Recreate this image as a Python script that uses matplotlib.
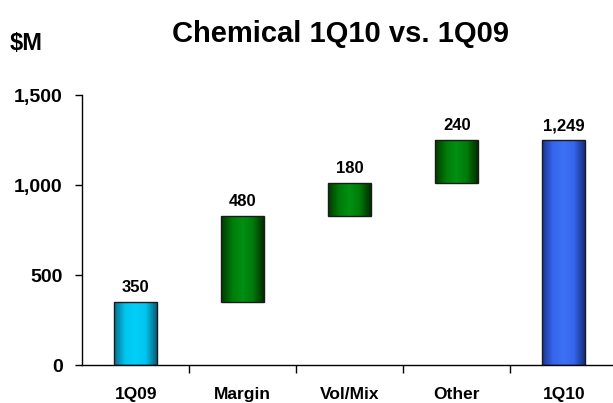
import matplotlib
matplotlib.use("Agg")
import matplotlib.pyplot as plt
import numpy as np
from matplotlib.colors import LinearSegmentedColormap

# data
categories = ["1Q09", "Margin", "Vol/Mix", "Other", "1Q10"]
start_value = 350
deltas = [480, 180, 240]
end_value = 1249
labels = ["350", "480", "180", "240", "1,249"]

# bar bottoms / heights built from the data
bottoms = [0]
heights = [start_value]
running = start_value
for d in deltas:
    bottoms.append(running)
    heights.append(d)
    running += d
bottoms.append(0)
heights.append(end_value)

narrow = ["Liberation Sans Narrow", "Liberation Sans"]

# edge-dark / centre-light gradients per bar
cyan = LinearSegmentedColormap.from_list("cyan", ["#0A6F8C", "#00C4EE", "#00D0FA", "#00C4EE", "#0A5F7C"])
green = LinearSegmentedColormap.from_list("green", ["#003A00", "#007A0A", "#009012", "#007A0A", "#003000"])
blue = LinearSegmentedColormap.from_list("blue", ["#1A3590", "#3566EC", "#3D70F5", "#3566EC", "#172E80"])
cmaps = [cyan, green, green, green, blue]

fig = plt.figure(figsize=(6.13, 4.03), dpi=100)
ax = fig.add_axes([0.134, 0.094, 0.873, 0.670])

x = np.arange(len(categories))
bars = ax.bar(x, heights, bottom=bottoms, width=0.4, color="none",
              edgecolor="#1a1a1a", linewidth=1.0, zorder=3)

grad = np.linspace(0, 1, 64).reshape(1, -1)
for b, cm in zip(bars, cmaps):
    x0, y0 = b.get_x(), b.get_y()
    im = ax.imshow(grad, cmap=cm, aspect="auto", zorder=2,
                   extent=(x0, x0 + b.get_width(), y0, y0 + b.get_height()))
    im.set_clip_path(b)

# value labels above each bar
for b, lab in zip(bars, labels):
    ax.annotate(lab, (b.get_x() + b.get_width() / 2, b.get_y() + b.get_height()),
                xytext=(0, 5), textcoords="offset points", ha="center", va="bottom",
                fontsize=12, family=narrow, fontweight="bold")

ax.set_xlim(-0.5, len(categories) - 0.5)
ax.set_ylim(0, 1500)
ax.set_yticks([0, 500, 1000, 1500])
ax.set_yticklabels(["0", "500", "1,000", "1,500"], fontsize=14,
                   family="Liberation Sans", fontweight="heavy")
ax.set_xticks(x)
ax.set_xticklabels(categories, fontsize=12.5, family="Liberation Sans",
                   fontweight="heavy")
ax.set_xticks(np.arange(0.5, len(categories) - 0.5), minor=True)
ax.tick_params(axis="x", which="major", length=0, pad=16)
ax.tick_params(axis="x", which="minor", length=6, width=1, direction="out")
ax.tick_params(axis="y", length=5, width=1, pad=9)

for s in ["top", "right"]:
    ax.spines[s].set_visible(False)
ax.spines["left"].set_linewidth(1)
ax.spines["bottom"].set_linewidth(1)
ax.spines["bottom"].set_clip_on(False)

fig.text(0.555, 0.915, "Chemical 1Q10 vs. 1Q09", ha="center", va="center",
         fontsize=21, fontweight="heavy", family="Liberation Sans")
fig.text(0.015, 0.893, "$M", ha="left", va="center", fontsize=17,
         fontweight="heavy", family=narrow)

fig.savefig("out.png", dpi=100)
